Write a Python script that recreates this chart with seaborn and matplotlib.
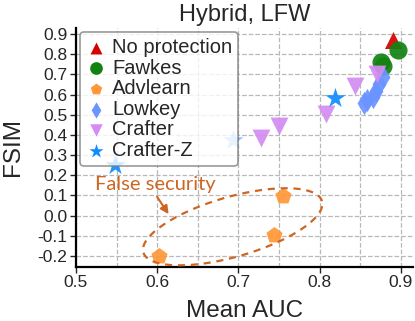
import numpy as np
import pandas as pd
import matplotlib
matplotlib.use("Agg")
import matplotlib.pyplot as plt
import matplotlib.ticker as mticker
import seaborn as sns

# values
methods = ["No protection", "Fawkes", "Advlearn", "Lowkey", "Crafter", "Crafter-Z"]
noprot_auc = [0.891]
noprot_fsim = [0.872]
fawkes_auc = [0.897, 0.876, 0.878]
fawkes_fsim = [0.822, 0.760, 0.742]
advlearn_auc = [0.755, 0.744, 0.602]
advlearn_fsim = [0.095, -0.098, -0.199]
lowkey_auc = [0.855, 0.858, 0.866, 0.870, 0.873, 0.878]
lowkey_fsim = [0.558, 0.575, 0.590, 0.620, 0.650, 0.685]
crafter_auc = [0.728, 0.750, 0.808, 0.844, 0.871]
crafter_fsim = [0.386, 0.445, 0.505, 0.644, 0.700]
crafterz_auc = [0.8186, 0.548]
crafterz_fsim = [0.582, 0.252]
crafterz_faint_auc = [0.6935]
crafterz_faint_fsim = [0.375]

colors = {"No protection": "#d40000", "Fawkes": "#128212", "Advlearn": "#ff9838",
          "Lowkey": "#6a94ff", "Crafter": "#d48cf2", "Crafter-Z": "#0f8cff"}
markers = {"No protection": "^", "Fawkes": "o", "Advlearn": "p",
           "Lowkey": "d", "Crafter": "v", "Crafter-Z": "*"}
sizes = {"No protection": 150, "Fawkes": 170, "Advlearn": 150,
         "Lowkey": 140, "Crafter": 165, "Crafter-Z": 230}

rows = []
for m, xs, ys in zip(methods,
                     [noprot_auc, fawkes_auc, advlearn_auc, lowkey_auc, crafter_auc, crafterz_auc],
                     [noprot_fsim, fawkes_fsim, advlearn_fsim, lowkey_fsim, crafter_fsim, crafterz_fsim]):
    for x, y in zip(xs, ys):
        rows.append((m, x, y))
df = pd.DataFrame(rows, columns=["method", "auc", "fsim"])

sns.set_style("white")
plt.rcParams["font.family"] = ["Liberation Sans", "DejaVu Sans"]
plt.rcParams["axes.unicode_minus"] = True

fig = plt.figure(figsize=(4.15, 3.21), dpi=100)
ax = fig.add_axes([0.183, 0.169, 0.812, 0.744])

for m in methods:
    sub = df[df.method == m]
    sns.scatterplot(data=sub, x="auc", y="fsim", color=colors[m], marker=markers[m],
                    s=sizes[m], linewidth=0, alpha=0.92, label=m, ax=ax, zorder=3)
sns.scatterplot(x=crafterz_faint_auc, y=crafterz_faint_fsim, color=colors["Crafter-Z"],
                marker="*", s=sizes["Crafter-Z"], linewidth=0, alpha=0.5, ax=ax,
                legend=False, zorder=3)

ax.set_xlim(0.5, 0.915)
ax.set_ylim(-0.253, 0.93)
ax.xaxis.set_major_locator(mticker.MultipleLocator(0.1))
ax.xaxis.set_minor_locator(mticker.MultipleLocator(0.05))
ax.yaxis.set_major_locator(mticker.MultipleLocator(0.1))
ax.xaxis.set_major_formatter(mticker.FormatStrFormatter("%.1f"))
ax.yaxis.set_major_formatter(mticker.FormatStrFormatter("%.1f"))
ax.tick_params(axis="both", which="major", labelsize=12.5, direction="out",
               length=4, width=1, left=True, bottom=True, pad=2)
ax.tick_params(axis="x", which="minor", length=0)
ax.grid(True, which="both", axis="x", linestyle="--", color="#b8b8b8", linewidth=0.9)
ax.grid(True, which="major", axis="y", linestyle="--", color="#b8b8b8", linewidth=0.9)
ax.set_axisbelow(True)
for side in ["top", "right"]:
    ax.spines[side].set_visible(False)
for side in ["left", "bottom"]:
    ax.spines[side].set_color("black")
    ax.spines[side].set_linewidth(1.6)

ax.set_title("Hybrid, LFW", fontsize=17, pad=5)
ax.set_xlabel("Mean AUC", fontsize=17.5, labelpad=7)
ax.set_ylabel("FSIM", fontsize=17.5, labelpad=10)

# dashed ellipse around the Advlearn points
accent = "#cc6622"
t = np.linspace(0, 2 * np.pi, 300)
cx, cy = 0.693, -0.055
major = (0.110, 0.127)
minor = (-0.0102, 0.1426)
ax.plot(cx + major[0] * np.cos(t) + minor[0] * np.sin(t),
        cy + major[1] * np.cos(t) + minor[1] * np.sin(t),
        linestyle=(0, (3.2, 2.6)), color=accent, linewidth=1.6, zorder=4)
ax.annotate("", xy=(0.616, -0.004), xytext=(0.598, 0.105),
            arrowprops=dict(arrowstyle="-|>", color=accent, lw=1.5, mutation_scale=12),
            zorder=4)
ax.text(0.598, 0.152, "False security", color=accent, fontsize=14.5,
        family=["Lato", "DejaVu Sans"], ha="center", va="center", zorder=4)

leg = ax.legend(loc="upper left", fontsize=14.5, markerscale=0.7, labelspacing=0.08,
                handlelength=1.0, handletextpad=0.3, borderpad=0.3, borderaxespad=0.2,
                frameon=True, fancybox=True, framealpha=0.8, edgecolor="#808080")
leg.get_frame().set_linewidth(1.2)
for h in leg.legend_handles:
    h.set_alpha(1)

fig.savefig("out.png", dpi=100)
